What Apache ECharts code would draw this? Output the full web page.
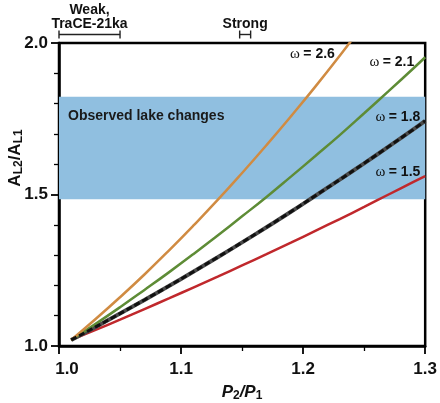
<!DOCTYPE html>
<html>
<head>
<meta charset="utf-8">
<script src="https://cdn.jsdelivr.net/npm/echarts@6/dist/echarts.min.js"></script>
<style>
html,body{margin:0;padding:0;background:#fff;}
#chart{width:440px;height:403px;}
</style>
</head>
<body>
<div id="chart"></div>
<script>
// P2/P1 sample positions
const ratioX = [1.01, 1.03, 1.05, 1.07, 1.09, 1.11, 1.13, 1.15, 1.17, 1.19, 1.21, 1.23, 1.25, 1.27, 1.29, 1.30];
// A_L2/A_L1
const omega26 = [1.020, 1.089, 1.161, 1.236, 1.315, 1.397, 1.482, 1.571, 1.663, 1.758, 1.856, 1.958, 2.064];
const omega21 = [1.020, 1.073, 1.128, 1.185, 1.243, 1.303, 1.365, 1.428, 1.492, 1.559, 1.627, 1.696, 1.768, 1.841, 1.915, 1.953];
const omega18 = [1.020, 1.063, 1.107, 1.152, 1.198, 1.245, 1.293, 1.342, 1.392, 1.443, 1.496, 1.549, 1.603, 1.658, 1.714, 1.743];
const omega15 = [1.020, 1.053, 1.087, 1.122, 1.157, 1.193, 1.229, 1.266, 1.303, 1.341, 1.380, 1.419, 1.459, 1.500, 1.541, 1.561];
// observed lake changes band
const bandRange = [1.484, 1.823];
const bandLabel = 'Observed lake changes';
// curve labels: [x, y] anchor (right edge), text
const curveLabelPos = [[1.226, 1.964], [1.291, 1.937], [1.296, 1.756], [1.296, 1.574]];
const curveLabelText = ['2.6', '2.1', '1.8', '1.5'];
// top brackets: [start, end]
const bracketRanges = [[1.0, 1.05], [1.148, 1.157]];
const bracketText = ['Weak,\nTraCE-21ka', 'Strong'];
// ticks
const xTicks = {min: 1.0, max: 1.3, interval: 0.1};
const yTicks = {min: 1.0, max: 2.0, interval: 0.5};

function pairs(xs, ys) { return ys.map((y, i) => [xs[i], y]); }

const FONT = '"Liberation Sans", Arial, sans-serif';
const chart = echarts.init(document.getElementById('chart'), null, {renderer: 'canvas'});

const option = {
  animation: false,
  backgroundColor: '#fff',
  grid: {left: 59, right: 12, top: 43, bottom: 57, show: true, borderColor: '#000', borderWidth: 2.5, backgroundColor: 'transparent'},
  xAxis: {
    type: 'value', min: xTicks.min, max: xTicks.max, interval: xTicks.interval,
    axisLine: {show: true, onZero: false, lineStyle: {color: '#000', width: 2.5}},
    axisTick: {show: true, inside: false, length: 8, lineStyle: {color: '#000', width: 1.8}},
    minorTick: {show: true, splitNumber: 2, length: 5, lineStyle: {color: '#000', width: 1.3}},
    splitLine: {show: false},
    axisLabel: {color: '#111', fontSize: 17, fontWeight: 'bold', fontFamily: FONT, margin: 15,
      formatter: v => (Math.abs(v - xTicks.min) < 1e-9 ? '{first|' + v.toFixed(1) + '}' : v.toFixed(1)),
      rich: {first: {fontSize: 17, fontWeight: 'bold', fontFamily: FONT, color: '#111', padding: [0, 0, 0, 16]}}}
  },
  yAxis: {
    type: 'value', min: yTicks.min, max: yTicks.max, interval: yTicks.interval,
    axisLine: {show: true, onZero: false, lineStyle: {color: '#000', width: 2.5}},
    axisTick: {show: true, inside: false, length: 8, lineStyle: {color: '#000', width: 1.8}},
    minorTick: {show: true, splitNumber: 5, length: 5, lineStyle: {color: '#000', width: 1.3}},
    splitLine: {show: false},
    axisLabel: {color: '#111', fontSize: 17, fontWeight: 'bold', fontFamily: FONT, margin: 11,
      formatter: v => v.toFixed(1)}
  },
  series: [
    {
      type: 'line', z: 1, silent: true, symbol: 'none',
      data: pairs(ratioX, omega15), lineStyle: {opacity: 0},
      markArea: {
        silent: true,
        itemStyle: {color: '#90bfe0'},
        label: {show: true, position: 'insideTopLeft', color: '#1a1a1a', fontWeight: 'bold', fontSize: 14,
          fontFamily: FONT, offset: [4, 8]},
        data: [[{yAxis: bandRange[0], name: bandLabel}, {yAxis: bandRange[1]}]]
      }
    },
    {type: 'line', z: 3, symbol: 'none', smooth: true, data: pairs(ratioX, omega15), lineStyle: {color: '#c0282c', width: 2.5}},
    {type: 'line', z: 3, symbol: 'none', smooth: true, data: pairs(ratioX, omega18), lineStyle: {color: '#4a4a4a', width: 4}},
    {type: 'line', z: 4, symbol: 'none', smooth: true, data: pairs(ratioX, omega18), lineStyle: {color: '#111', width: 3, type: [6, 3]}},
    {type: 'line', z: 3, symbol: 'none', smooth: true, data: pairs(ratioX, omega21), lineStyle: {color: '#5e8c36', width: 2.5}},
    {type: 'line', z: 3, symbol: 'none', smooth: true, data: pairs(ratioX, omega26), lineStyle: {color: '#d08b42', width: 2.5}},
    {
      type: 'custom', z: 6, silent: true, clip: false,
      data: curveLabelPos,
      encode: {x: 0, y: 1},
      renderItem: function (params, api) {
        const p = api.coord([api.value(0), api.value(1)]);
        return {
          type: 'text',
          x: p[0], y: p[1],
          style: {
            text: '{w|ω} {b|= ' + curveLabelText[params.dataIndex] + '}',
            align: 'right', verticalAlign: 'middle',
            rich: {
              w: {fontFamily: '"Liberation Serif", "DejaVu Serif", serif', fontSize: 15, fill: '#111'},
              b: {fontFamily: FONT, fontSize: 14, fontWeight: 'bold', fill: '#111'}
            }
          }
        };
      }
    },
    {
      type: 'custom', z: 6, silent: true, clip: false,
      data: bracketRanges.map(r => [r[0], r[1], yTicks.max]),
      encode: {x: [0, 1], y: 2},
      renderItem: function (params, api) {
        const a = api.coord([api.value(0), api.value(2)]);
        const b = api.coord([api.value(1), api.value(2)]);
        const y = a[1] - 8.5;
        const ls = {stroke: '#222', lineWidth: 1.4};
        return {
          type: 'group',
          children: [
            {type: 'line', shape: {x1: a[0], y1: y, x2: b[0], y2: y}, style: ls},
            {type: 'line', shape: {x1: a[0], y1: y - 4, x2: a[0], y2: y + 4}, style: ls},
            {type: 'line', shape: {x1: b[0], y1: y - 4, x2: b[0], y2: y + 4}, style: ls},
            {type: 'text', x: (a[0] + b[0]) / 2, y: y - 3,
              style: {text: bracketText[params.dataIndex], align: 'center', verticalAlign: 'bottom',
                font: 'bold 14px ' + FONT, lineHeight: 14.5, fill: '#111'}}
          ]
        };
      }
    }
  ],
  graphic: [
    {
      type: 'text', x: 242, y: 392,
      style: {
        text: '{i|P}{s|2}{i|/P}{s|1}',
        align: 'center', verticalAlign: 'middle',
        rich: {
          i: {fontFamily: FONT, fontSize: 17, fontWeight: 'bold', fontStyle: 'italic', fill: '#111', lineHeight: 20},
          s: {fontFamily: FONT, fontSize: 12, fontWeight: 'bold', fill: '#111', lineHeight: 10, verticalAlign: 'bottom'}
        }
      }
    },
    {
      type: 'text', x: 15, y: 158, rotation: Math.PI / 2,
      style: {
        text: '{i|A}{s|L2}{i|/A}{s|L1}',
        align: 'center', verticalAlign: 'middle',
        rich: {
          i: {fontFamily: FONT, fontSize: 17, fontWeight: 'bold', fill: '#111', lineHeight: 20},
          s: {fontFamily: FONT, fontSize: 12, fontWeight: 'bold', fill: '#111', lineHeight: 10, verticalAlign: 'bottom'}
        }
      }
    }
  ]
};
chart.setOption(option);
</script>
</body>
</html>
